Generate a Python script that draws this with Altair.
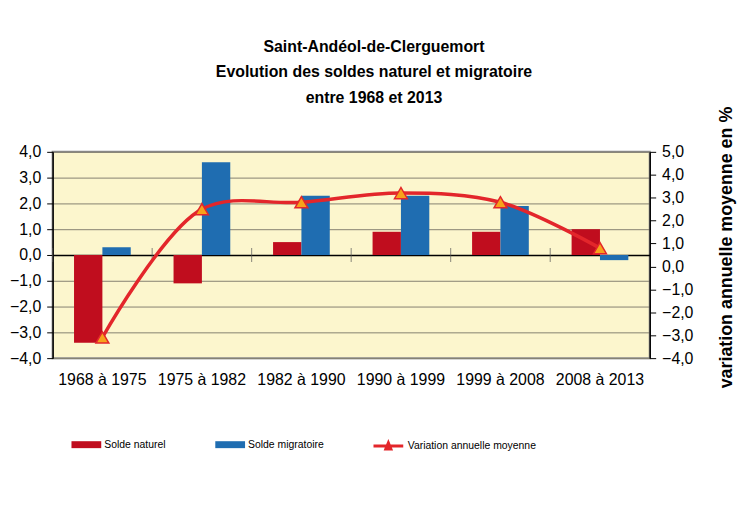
import altair as alt
import pandas as pd

categories = ["1968 à 1975", "1975 à 1982", "1982 à 1990", "1990 à 1999", "1999 à 2008", "2008 à 2013"]
series = ["Solde naturel", "Solde migratoire"]
solde_naturel = [-3.4, -1.1, 0.5, 0.9, 0.9, 1.0]
solde_migratoire = [0.3, 3.6, 2.3, 2.3, 1.9, -0.2]
variation = [-3.1, 2.5, 2.8, 3.2, 2.8, 0.8]
line_name = "Variation annuelle moyenne"
title_lines = ["Saint-Andéol-de-Clerguemort", "Evolution des soldes naturel et migratoire", "entre 1968 et 2013"]
left_ticks = [-4, -3, -2, -1, 0, 1, 2, 3, 4]
right_ticks = [-4, -3, -2, -1, 0, 1, 2, 3, 4, 5]

FONT = "Liberation Sans"
bar_colors = ["#c00d1e", "#1f6db1"]
line_color = "#e3262b"
marker_fill = "#f7a21b"

bars_df = pd.DataFrame({
    "cat": categories * 2,
    "serie": [series[0]] * len(categories) + [series[1]] * len(categories),
    "val": solde_naturel + solde_migratoire,
})
line_df = pd.DataFrame({"cat": categories, "var": variation, "s": [line_name] * len(categories)})
cat_df = pd.DataFrame({"cat": categories})

comma_fmt = "replace(format(datum.value, '.1f'), '.', ',')"
PAD_IN = 0.43
WIDTH = 602

x_enc = alt.X(
    "cat:N", sort=categories,
    scale=alt.Scale(paddingInner=PAD_IN, paddingOuter=PAD_IN / 2),
    axis=alt.Axis(title=None, labelAngle=0, labelFontSize=16, ticks=False, domain=False,
                  labelPadding=14, labelColor="black", labelFont=FONT, labelOverlap=False),
)

left_scale = alt.Scale(domain=[-4, 4], nice=False)
left_axis = alt.Axis(title=None, values=left_ticks, labelExpr=comma_fmt, labelFontSize=16,
                     labelFont=FONT, labelColor="black", tickSize=6, tickColor="black",
                     domainColor="black", domainWidth=1.5, labelPadding=6, labelOverlap=False,
                     grid=True,
                     gridColor=alt.condition("datum.value === 0", alt.value("#000000"), alt.value("#858170")),
                     gridWidth=alt.condition("datum.value === 0", alt.value(1.6), alt.value(1)))

bars = alt.Chart(bars_df).mark_bar().encode(
    x=x_enc,
    xOffset=alt.XOffset("serie:N", sort=series, scale=alt.Scale(paddingInner=0, paddingOuter=0)),
    y=alt.Y("val:Q", scale=left_scale, axis=left_axis),
    color=alt.Color("serie:N", sort=series,
                    scale=alt.Scale(domain=series, range=bar_colors),
                    legend=alt.Legend(title=None, orient="none", legendX=24, legendY=285,
                                      direction="horizontal", columnPadding=50,
                                      symbolType="M-1.5,-0.35H1.5V0.35H-1.5Z", symbolSize=400,
                                      symbolStrokeWidth=0, labelFontSize=10.5, labelFont=FONT,
                                      labelColor="black", labelOffset=8)),
)

# small category separator ticks on the zero line (half the inner padding before each band)
sep_shift = -(PAD_IN / 2) * WIDTH / len(categories)
sep_ticks = alt.Chart(cat_df).mark_tick(orient="vertical", size=14, thickness=1, color="#555555",
                                        xOffset=sep_shift).encode(
    x=alt.X("cat:N", sort=categories, bandPosition=0),
    y=alt.Y(datum=0, scale=left_scale, axis=left_axis),
)

y_right = alt.Y(
    "var:Q", scale=alt.Scale(domain=[-4, 5], nice=False),
    axis=alt.Axis(orient="right", values=right_ticks, labelExpr=comma_fmt, grid=False,
                  title="variation annuelle moyenne en %", titleFontSize=18, titleFontWeight="bold",
                  titleFont=FONT, titleColor="black", titleAngle=270, titlePadding=43,
                  titleY=96,
                  labelFontSize=16, labelFont=FONT, labelColor="black", labelOverlap=False,
                  tickSize=6, tickColor="black", domainColor="black", domainWidth=1.5, labelPadding=6),
)

line = alt.Chart(line_df).mark_line(interpolate="catmull-rom", strokeWidth=3.5).encode(
    x=alt.X("cat:N", sort=categories),
    y=y_right,
    stroke=alt.Stroke("s:N", scale=alt.Scale(domain=[line_name], range=[line_color]),
                      legend=alt.Legend(title=None, orient="none", legendX=327, legendY=285,
                                        symbolType="M-1.5,0H1.5M-0.25,0.3L0,-0.3L0.25,0.3Z",
                                        symbolSize=400, symbolStrokeWidth=3,
                                        symbolFillColor=marker_fill,
                                        labelFontSize=10.5, labelFont=FONT, labelColor="black",
                                        labelOffset=8)),
)

points = alt.Chart(line_df).mark_point(shape="triangle-up", filled=True, fill=marker_fill,
                                       stroke=line_color, strokeWidth=1.5, size=170, opacity=1).encode(
    x=alt.X("cat:N", sort=categories),
    y=y_right,
)

chart = alt.layer(alt.layer(bars, sep_ticks), alt.layer(line, points)).resolve_scale(y="independent").properties(
    width=WIDTH, height=208,
    autosize=alt.AutoSizeParams(type="none"),
    padding={"left": 45, "top": 143, "right": 88, "bottom": 140},
    title=alt.TitleParams(text=title_lines, fontSize=16, fontWeight="bold", font=FONT, color="black",
                          anchor="middle", dx=23, dy=15, offset=15, lineHeight=26),
).configure_view(fill="#fcf6cd", stroke="#8a8a8a", strokeWidth=2)

chart.save("out.html", embed_options={"renderer": "svg", "actions": False})
